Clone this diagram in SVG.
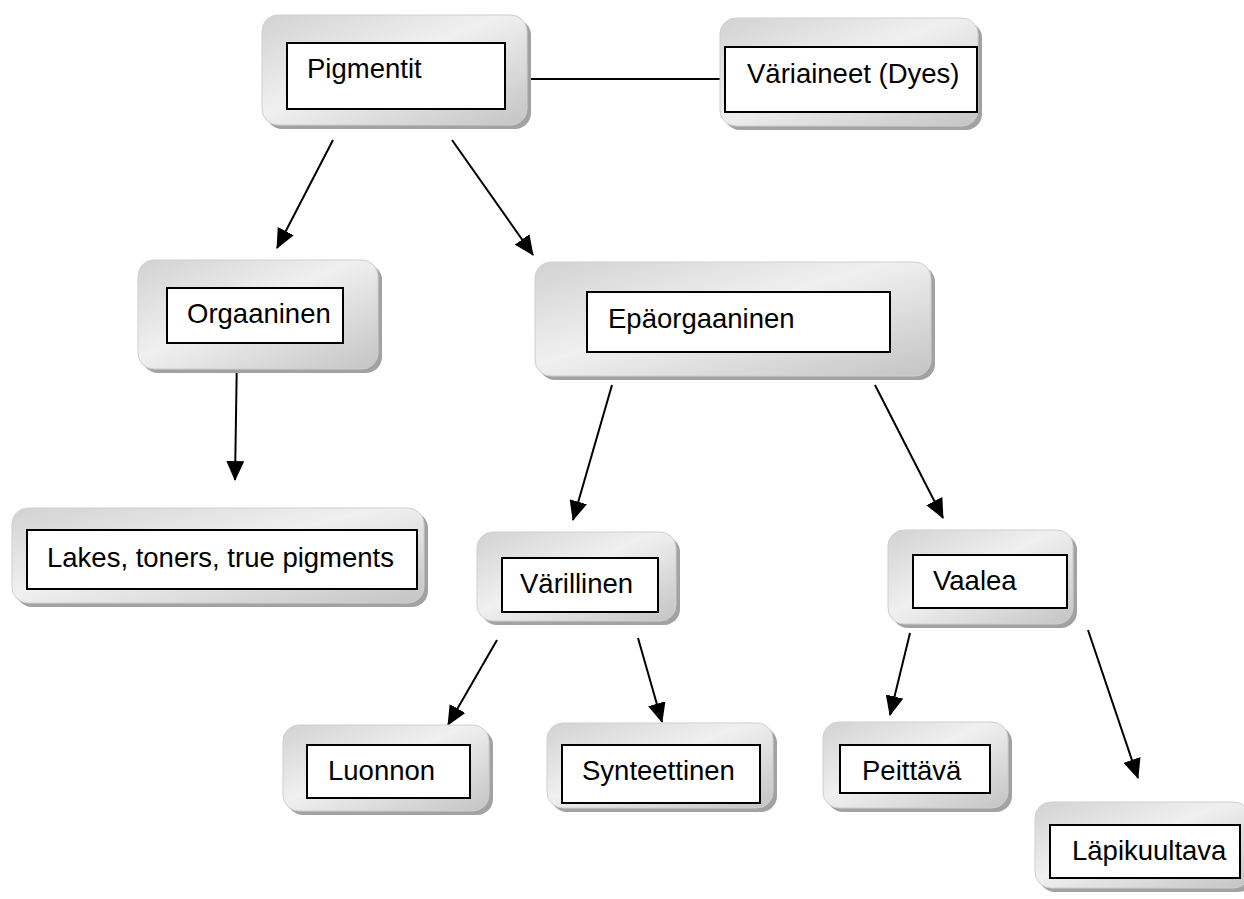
<svg xmlns="http://www.w3.org/2000/svg" width="1244" height="899" viewBox="0 0 1244 899">
<defs>
<linearGradient id="g" x1="0" y1="0" x2="1" y2="1">
<stop offset="0" stop-color="#d2d2d2"/>
<stop offset="0.45" stop-color="#f0f0f0"/>
<stop offset="1" stop-color="#c4c4c4"/>
</linearGradient>
<marker id="ah" markerWidth="10" markerHeight="9" refX="9.5" refY="4.5" orient="auto" markerUnits="strokeWidth">
<path d="M0,0 L10,4.5 L0,9 z" fill="#000"/>
</marker>
<style>
.sh{fill:#a2a2a2}
.bg{fill:url(#g);stroke:#cfcfcf;stroke-width:1}
.ib{fill:#fff;stroke:#000;stroke-width:2}
.t{font-family:"Liberation Sans",Arial,sans-serif;font-size:27.5px;fill:#000}
.c{stroke:#000;stroke-width:2;fill:none}
.a{stroke:#000;stroke-width:2;fill:none;marker-end:url(#ah)}
</style>
</defs>
<rect width="1244" height="899" fill="#fff"/>
<g id="connectors">
<line class="c" x1="531" y1="79" x2="720" y2="79"/>
<line class="a" x1="333" y1="140" x2="277" y2="248"/>
<line class="a" x1="452" y1="140" x2="533" y2="255"/>
<line class="a" x1="237" y1="352" x2="235" y2="480"/>
<line class="a" x1="612" y1="385" x2="573" y2="520"/>
<line class="a" x1="875" y1="385" x2="943" y2="518"/>
<line class="a" x1="497" y1="640" x2="448" y2="725"/>
<line class="a" x1="638" y1="638" x2="662" y2="722"/>
<line class="a" x1="910" y1="633" x2="890" y2="715"/>
<line class="a" x1="1088" y1="630" x2="1138" y2="778"/>
</g>
<g id="pigmentit">
<rect class="sh" x="266" y="19" width="265" height="110" rx="16"/>
<rect class="bg" x="262" y="15" width="265" height="110" rx="16"/>
<rect class="ib" x="287" y="43" width="218" height="66"/>
<text class="t" x="307" y="78">Pigmentit</text>
</g>
<g id="variaineet">
<rect class="sh" x="724" y="22" width="258" height="108" rx="16"/>
<rect class="bg" x="720" y="18" width="258" height="108" rx="16"/>
<rect class="ib" x="725" y="47" width="252" height="65"/>
<text class="t" x="747" y="83">Väriaineet (Dyes)</text>
</g>
<g id="orgaaninen">
<rect class="sh" x="142" y="264" width="240" height="109" rx="16"/>
<rect class="bg" x="138" y="260" width="240" height="109" rx="16"/>
<rect class="ib" x="167" y="288" width="176" height="55"/>
<text class="t" x="187" y="323">Orgaaninen</text>
</g>
<g id="epaorgaaninen">
<rect class="sh" x="539" y="266" width="396" height="114" rx="16"/>
<rect class="bg" x="535" y="262" width="396" height="114" rx="16"/>
<rect class="ib" x="587" y="292" width="303" height="60"/>
<text class="t" x="608" y="328">Epäorgaaninen</text>
</g>
<g id="lakes">
<rect class="sh" x="16" y="512" width="412" height="95" rx="16"/>
<rect class="bg" x="12" y="508" width="412" height="95" rx="16"/>
<rect class="ib" x="27" y="530" width="390" height="59"/>
<text class="t" x="47" y="567">Lakes, toners, true pigments</text>
</g>
<g id="varillinen">
<rect class="sh" x="481" y="536" width="199" height="89" rx="16"/>
<rect class="bg" x="477" y="532" width="199" height="89" rx="16"/>
<rect class="ib" x="502" y="558" width="156" height="54"/>
<text class="t" x="520" y="593">Värillinen</text>
</g>
<g id="vaalea">
<rect class="sh" x="892" y="534" width="185" height="94" rx="16"/>
<rect class="bg" x="888" y="530" width="185" height="94" rx="16"/>
<rect class="ib" x="913" y="555" width="154" height="53"/>
<text class="t" x="933" y="590">Vaalea</text>
</g>
<g id="luonnon">
<rect class="sh" x="287" y="729" width="206" height="86" rx="16"/>
<rect class="bg" x="283" y="725" width="206" height="86" rx="16"/>
<rect class="ib" x="307" y="745" width="163" height="53"/>
<text class="t" x="328" y="780">Luonnon</text>
</g>
<g id="synteettinen">
<rect class="sh" x="551" y="727" width="226" height="85" rx="16"/>
<rect class="bg" x="547" y="723" width="226" height="85" rx="16"/>
<rect class="ib" x="562" y="745" width="198" height="58"/>
<text class="t" x="582" y="780">Synteettinen</text>
</g>
<g id="peittava">
<rect class="sh" x="827" y="726" width="185" height="86" rx="16"/>
<rect class="bg" x="823" y="722" width="185" height="86" rx="16"/>
<rect class="ib" x="840" y="745" width="150" height="48"/>
<text class="t" x="862" y="780">Peittävä</text>
</g>
<g id="lapikuultava">
<rect class="sh" x="1039" y="806" width="215" height="86" rx="16"/>
<rect class="bg" x="1035" y="802" width="215" height="86" rx="16"/>
<rect class="ib" x="1050" y="825" width="190" height="53"/>
<text class="t" x="1072" y="860">Läpikuultava</text>
</g>
</svg>
